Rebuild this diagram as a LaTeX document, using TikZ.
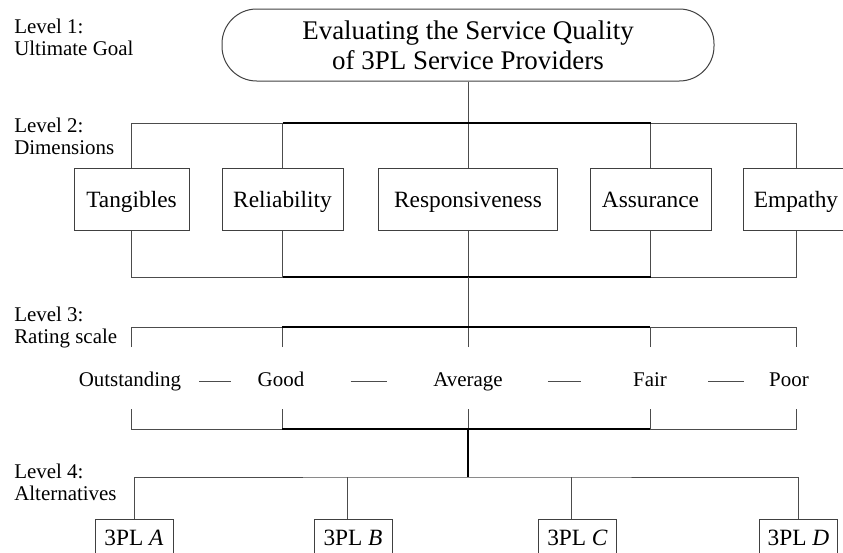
\documentclass[tikz,border=0pt]{standalone}
\usepackage{fontspec}
\setmainfont{Liberation Serif}
\begin{document}
\begin{tikzpicture}[x=0.75pt,y=-0.75pt,
  lvl/.style={anchor=north west,inner sep=0pt,align=left,font=\fontsize{15.7}{16.5}\selectfont},
  dim/.style={draw=black!75,line width=0.75pt,minimum height=46.5pt,inner sep=0pt,text height=13pt,text depth=0pt,font=\fontsize{17.5}{20}\selectfont},
  alt/.style={draw=black!75,line width=0.75pt,minimum width=58.5pt,minimum height=27pt,inner sep=0pt,text height=13pt,text depth=0pt,font=\fontsize{17.5}{20}\selectfont},
  rate/.style={inner sep=0pt,text height=11pt,text depth=3pt,font=\fontsize{15.7}{17.5}\selectfont},
  thin/.style={draw=black!70,line width=0.7pt},
  trunk/.style={draw=black,line width=0.95pt}]
\useasboundingbox (0,0) rectangle (843,553);
\clip (0,0) rectangle (843,553);
\node[draw=black!75,line width=0.75pt,rounded corners=26pt,minimum width=369pt,minimum height=54pt,align=center,text depth=0pt,font=\fontsize{20.2}{22.5}\selectfont] (goal) at (468,45) {Evaluating the Service Quality\\of 3PL Service Providers};
\node[lvl] (l1) at (14,19) {Level 1:\\Ultimate Goal};
\node[lvl] (l2) at (14,118) {Level 2:\\Dimensions};
\node[lvl] (l3) at (14,307) {Level 3:\\Rating scale};
\node[lvl] (l4) at (14,464) {Level 4:\\Alternatives};
\foreach \n/\x/\w/\t in {d1/131.5/86.25/Tangibles,d2/282.5/90.75/Reliability,d3/468/134.25/Responsiveness,d4/650.5/90.75/Assurance,d5/796/79.5/Empathy}
  \node[dim,minimum width=\w pt] (\n) at (\x,199) {\t};
\foreach \n/\x/\t in {r1/130/Outstanding,r2/281/Good,r3/468/Average,r4/650/Fair,r5/789/Poor}
  \node[rate] (\n) at (\x,381) {\t};
\foreach \n/\x/\t in {x1/134/A,x2/353/B,x3/577.5/C,x4/798.5/D}
  \node[alt] (\n) at (\x,537) {3PL \textit{\t}};
\coordinate (top2) at (468,123);
\coordinate (bot2) at (468,277);
\coordinate (top3) at (468,327);
\coordinate (bot3) at (468,429);
\coordinate (top4) at (468,477);
\foreach \x [count=\i] in {131,282,468,650,796} {
  \coordinate (a\i) at (\x,347);
  \coordinate (b\i) at (\x,409);
}
\draw[thin] (goal) -- (top2);
\draw[thin] (d1.north) |- (top2) -| (d5.north);
\draw[thin] (d1.south) |- (bot2) -| (d5.south);
\foreach \n in {d2,d3,d4} {
  \draw[thin] (\n.north) -- (\n.north |- top2);
  \draw[thin] (\n.south) -- (\n.south |- bot2);
}
\draw[trunk] (d2.north |- top2) -- (d4.north |- top2);
\draw[trunk] (d2.south |- bot2) -- (d4.south |- bot2);
\draw[thin] (bot2) -- (top3);
\draw[thin] (a1) |- (top3) -| (a5);
\draw[thin] (b1) |- (bot3) -| (b5);
\foreach \i in {2,3,4} {
  \draw[thin] (a\i) -- (a\i |- top3);
  \draw[thin] (b\i) -- (b\i |- bot3);
}
\draw[trunk] (a2 |- top3) -- (a4 |- top3);
\draw[trunk] (b2 |- bot3) -- (b4 |- bot3);
\draw[thin,shorten <=13.5pt,shorten >=19.5pt] (r1) -- (r2);
\draw[thin,shorten <=34.5pt,shorten >=34.5pt] (r2) -- (r3);
\draw[thin,shorten <=33.75pt,shorten >=39pt] (r3) -- (r4);
\draw[thin,shorten <=30.75pt,shorten >=18.75pt] (r4) -- (r5);
\draw[black,line width=0.8pt] (bot3) -- (top4);
\draw[thin] (x1.north) |- (top4) -| (x4.north);
\draw[thin] ([xshift=-4.5pt]x2.north) -- ([xshift=-4.5pt]x2.north |- top4);
\draw[thin] ([xshift=-4.5pt]x3.north) -- ([xshift=-4.5pt]x3.north |- top4);
\end{tikzpicture}
\end{document}
